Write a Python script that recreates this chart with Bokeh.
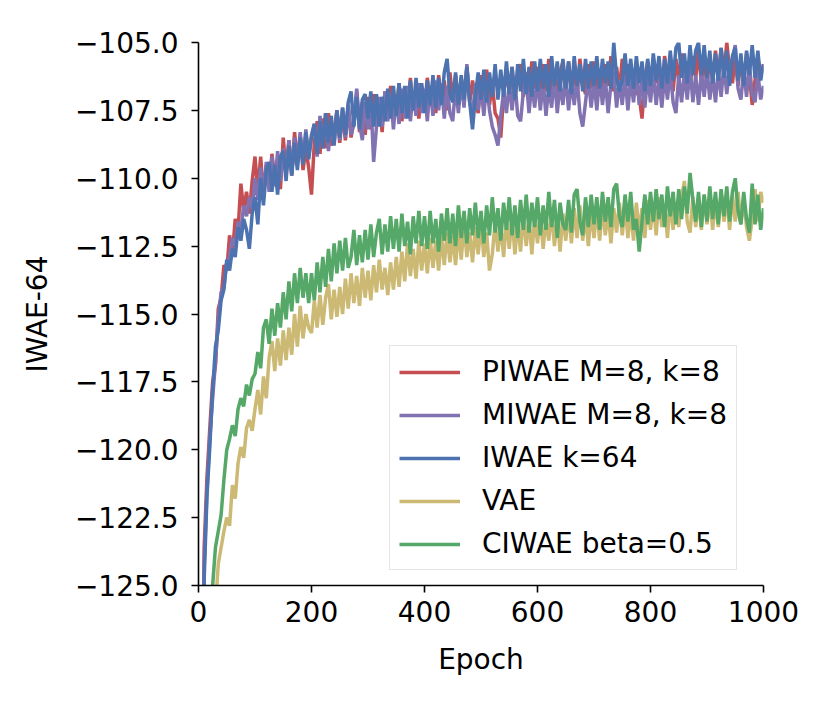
from bokeh.plotting import figure
from bokeh.models import Range1d, FixedTicker, Legend, LegendItem
from bokeh.embed import file_html
from bokeh.resources import INLINE

# ---------------- data (epoch step 5) ----------------
epochs = list(range(0, 1001, 5))

piwae = [
    -140.0, -132.0, -123.6, -121.0, -119.2, -117.5, -116.9, -114.8, -114.4, -113.2,
    -113.4, -112.1, -112.8, -111.5, -111.9, -110.2, -111.2, -110.5, -111.3, -110.1,
    -109.2, -110.5, -109.2, -110.6, -109.5, -110.3, -109.1, -110.0, -109.4, -110.4,
    -108.5, -109.8, -108.6, -109.9, -108.3, -109.4, -108.4, -109.7, -108.9, -109.6,
    -110.6, -108.7, -107.9, -109.1, -107.8, -108.9, -107.6, -108.8, -108.3, -107.5,
    -108.7, -107.6, -108.6, -107.3, -108.5, -107.9, -106.8, -108.3, -107.2, -108.4,
    -107.0, -108.2, -106.9, -107.9, -107.1, -108.3, -106.8, -107.8, -106.6, -107.7,
    -107.5, -106.5, -107.9, -106.8, -107.6, -106.3, -107.5, -106.7, -107.8, -106.6,
    -107.4, -106.3, -107.3, -106.5, -107.6, -106.2, -107.2, -106.4, -107.5, -106.1,
    -107.1, -106.2, -107.3, -106.3, -107.0, -105.9, -107.2, -106.4, -107.1, -107.6,
    -106.2, -107.2, -106.0, -107.3, -106.5, -107.6, -107.8, -108.5, -106.9, -106.0,
    -106.9, -105.9, -107.1, -106.2, -105.8, -107.0, -106.1, -106.9, -105.7, -106.7,
    -105.9, -107.0, -105.8, -106.8, -105.6, -106.9, -106.0, -107.1, -106.1, -105.7,
    -106.9, -105.7, -106.6, -105.9, -107.0, -105.6, -106.5, -106.9, -105.8, -106.7,
    -105.7, -106.8, -106.0, -106.9, -105.8, -106.6, -105.5, -106.8, -105.9, -106.8,
    -105.6, -106.6, -105.8, -106.9, -106.0, -106.8, -107.0, -107.8, -106.3, -105.7,
    -106.7, -105.6, -106.5, -105.7, -106.9, -105.5, -106.4, -105.6, -106.8, -105.6,
    -106.4, -105.4, -106.6, -105.7, -106.7, -105.5, -106.3, -105.3, -106.5, -105.6,
    -106.6, -105.5, -106.4, -105.3, -106.3, -105.2, -106.2, -105.0, -106.0, -106.5,
    -105.5, -106.6, -105.6, -106.4, -105.4, -106.2, -107.3, -106.4, -105.5, -106.3,
    -105.8,
]

miwae = [
    -140.0, -133.0, -124.3, -121.5, -119.6, -118.1, -116.8, -115.2, -114.2, -114.0,
    -113.1, -112.9, -112.2, -112.5, -111.6, -111.9, -111.0, -111.4, -110.7, -111.1,
    -110.0, -110.8, -109.6, -110.7, -109.4, -110.5, -109.2, -110.3, -109.0, -110.1,
    -108.9, -109.9, -108.6, -109.8, -108.5, -109.5, -108.3, -109.4, -108.2, -109.2,
    -108.4, -108.0, -109.2, -107.7, -108.9, -107.6, -109.0, -107.9, -108.7, -107.5,
    -108.6, -107.4, -108.5, -107.3, -108.4, -108.0, -106.7, -108.0, -108.6, -107.2,
    -108.2, -107.1, -109.4, -108.1, -107.0, -108.1, -106.8, -107.9, -106.9, -108.2,
    -107.0, -108.0, -106.7, -107.8, -106.6, -107.9, -106.8, -107.7, -106.5, -107.6,
    -106.7, -107.9, -106.6, -107.7, -106.4, -107.5, -106.5, -107.8, -106.6, -107.6,
    -107.9, -106.6, -107.6, -106.4, -107.4, -105.8, -107.2, -107.7, -106.5, -107.5,
    -106.6, -107.7, -106.5, -107.5, -108.1, -108.4, -108.8, -107.7, -106.8, -107.6,
    -106.5, -107.5, -106.4, -107.7, -107.9, -106.8, -106.3, -107.6, -106.5, -107.4,
    -106.3, -107.5, -106.4, -107.7, -106.6, -107.4, -106.2, -107.6, -106.5, -107.3,
    -106.2, -107.5, -106.4, -107.3, -106.3, -107.6, -108.1, -107.2, -106.3, -107.4,
    -106.4, -107.5, -106.2, -107.3, -106.3, -107.6, -106.5, -106.1, -107.4, -106.4,
    -107.3, -106.2, -107.5, -106.3, -107.2, -106.0, -107.3, -106.3, -107.4, -106.2,
    -107.2, -106.1, -107.3, -106.3, -107.4, -106.2, -107.1, -106.0, -107.2, -107.6,
    -106.2, -107.2, -106.1, -107.1, -105.9, -107.2, -106.2, -107.3, -106.1, -107.0,
    -106.0, -107.1, -106.2, -107.2, -106.0, -107.0, -105.8, -106.9, -105.9, -105.6,
    -105.1, -106.7, -107.1, -106.0, -107.0, -105.8, -106.9, -107.2, -106.1, -107.1,
    -106.6,
]

iwae = [
    -140.0, -133.5, -124.8, -121.7, -119.9, -117.8, -116.2, -115.6, -114.5, -114.1,
    -113.0, -113.4, -112.6, -112.9, -111.8, -112.3, -111.5, -111.9, -112.6, -111.3,
    -110.7, -111.7, -110.0, -111.0, -109.7, -109.4, -110.5, -109.5, -110.6, -109.2,
    -109.0, -110.1, -108.8, -109.9, -108.7, -109.7, -108.5, -109.5, -108.3, -109.3,
    -108.5, -108.0, -109.1, -107.9, -108.9, -107.6, -108.7, -107.7, -108.8, -107.5,
    -108.5, -107.4, -108.4, -107.2, -106.8, -108.1, -107.0, -108.2, -107.1, -106.9,
    -107.8, -106.8, -108.1, -106.9, -108.1, -107.0, -107.9, -106.7, -107.8, -106.6,
    -107.7, -106.5, -107.6, -106.6, -107.8, -106.4, -107.5, -106.3, -107.4, -106.5,
    -107.6, -106.4, -107.3, -106.2, -107.4, -106.3, -107.3, -106.1, -105.6, -106.9,
    -107.2, -106.1, -107.3, -106.2, -107.1, -105.9, -107.2, -108.2, -107.0, -106.1,
    -107.1, -106.0, -107.2, -106.1, -107.0, -105.8, -107.1, -106.0, -107.0, -105.7,
    -106.9, -105.9, -107.1, -105.8, -106.8, -105.6, -106.9, -105.9, -107.0, -105.7,
    -106.8, -105.6, -106.7, -105.8, -107.0, -105.5, -106.6, -105.7, -106.8, -105.6,
    -106.7, -105.7, -106.9, -105.5, -106.6, -105.8, -106.8, -105.6, -106.7, -105.7,
    -106.6, -105.5, -106.7, -105.6, -106.5, -105.7, -106.7, -105.0, -106.3, -106.8,
    -106.4, -105.4, -106.6, -105.6, -106.7, -105.5, -106.5, -105.7, -106.8, -105.6,
    -106.6, -105.4, -106.4, -105.5, -106.7, -105.6, -106.5, -105.3, -106.4, -105.2,
    -105.0, -106.3, -105.4, -106.5, -105.1, -106.2, -105.3, -105.0, -106.2, -105.1,
    -106.3, -105.3, -106.5, -105.4, -106.4, -105.2, -106.3, -105.3, -106.6, -105.5,
    -105.2, -106.4, -105.4, -106.6, -105.3, -106.2, -105.1, -106.3, -105.3, -106.4,
    -105.8,
]

vae = [
    -150.0, -146.0, -142.0, -138.0, -134.0, -129.0, -125.8, -124.2, -123.6, -123.0,
    -122.5, -122.8, -121.3, -121.8, -120.5, -119.9, -120.3, -119.2, -118.9, -119.3,
    -118.5, -117.8, -118.7, -117.3, -118.1, -116.6, -116.0, -117.1, -115.9, -116.9,
    -115.6, -116.7, -115.5, -116.5, -115.0, -116.2, -114.7, -115.9, -115.0, -115.5,
    -115.7, -114.5, -115.5, -114.3, -115.4, -114.4, -113.9, -115.2, -114.1, -115.1,
    -114.0, -115.0, -113.7, -114.8, -113.5, -114.6, -113.6, -114.7, -113.3, -114.4,
    -113.4, -114.5, -113.2, -114.2, -113.0, -114.1, -113.3, -114.3, -113.1, -114.1,
    -112.9, -114.0, -112.7, -113.8, -112.4, -113.6, -112.6, -113.7, -112.3, -113.4,
    -112.4, -113.5, -112.2, -113.3, -112.3, -113.4, -112.1, -113.2, -112.0, -113.1,
    -112.1, -113.2, -111.9, -113.0, -111.7, -112.9, -112.0, -113.1, -111.8, -112.8,
    -111.7, -112.9, -112.0, -113.4, -112.8, -111.6, -112.7, -111.7, -112.9, -111.5,
    -112.6, -111.4, -112.8, -111.6, -112.7, -111.3, -112.5, -111.5, -112.8, -111.4,
    -112.4, -111.3, -112.6, -111.5, -112.3, -111.2, -112.5, -111.4, -112.7, -111.3,
    -112.3, -111.2, -112.4, -111.1, -112.2, -111.0, -112.3, -111.3, -112.5, -111.2,
    -112.2, -111.1, -112.3, -111.0, -112.1, -111.2, -112.4, -111.1, -112.0, -110.9,
    -112.1, -111.0, -112.2, -111.2, -112.3, -110.9, -112.0, -111.1, -112.2, -110.8,
    -111.9, -110.9, -112.1, -110.7, -111.8, -111.0, -112.2, -110.8, -111.9, -110.9,
    -111.8, -110.7, -110.1, -111.6, -112.0, -110.7, -111.8, -110.8, -111.9, -110.6,
    -111.7, -110.7, -111.9, -110.8, -111.8, -110.5, -111.6, -110.7, -111.9, -110.6,
    -111.6, -110.5, -111.7, -110.7, -111.8, -112.3, -111.5, -110.4, -111.6, -110.5,
    -110.9,
]

ciwae = [
    -150.0, -145.0, -140.0, -135.0, -130.0, -125.0, -123.6, -123.0, -122.4, -121.1,
    -120.0, -119.6, -119.1, -119.5, -118.5, -118.1, -118.4, -117.6, -118.0, -117.4,
    -117.2, -116.4, -117.0, -115.5, -115.2, -116.1, -114.8, -115.8, -114.6, -115.5,
    -114.2, -115.2, -113.8, -114.9, -113.5, -114.6, -113.3, -114.4, -113.5, -114.6,
    -113.5, -114.5, -113.1, -114.2, -112.9, -114.0, -112.6, -113.8, -112.4, -113.5,
    -112.3, -113.4, -112.2, -113.3, -112.9, -111.9, -113.2, -112.1, -113.1, -111.9,
    -113.0, -111.7, -112.9, -112.0, -111.5, -112.8, -111.7, -112.7, -111.4, -112.6,
    -111.5, -112.7, -111.3, -112.5, -111.6, -112.8, -111.4, -112.4, -111.2, -112.5,
    -111.4, -112.6, -111.2, -112.4, -111.5, -112.7, -111.3, -112.3, -111.1, -112.4,
    -111.3, -112.5, -111.0, -112.2, -111.2, -112.4, -111.1, -112.1, -110.9, -112.2,
    -111.2, -112.4, -111.0, -112.1, -110.7, -112.0, -111.1, -112.3, -110.9, -111.9,
    -110.7, -112.1, -111.0, -112.2, -110.8, -111.9, -110.6, -112.0, -110.9, -111.8,
    -110.7, -112.1, -111.0, -111.9, -110.5, -111.8, -110.8, -112.2, -110.9, -111.7,
    -111.9, -110.8, -112.0, -110.6, -110.4, -111.6, -112.1, -110.7, -111.8, -110.6,
    -111.7, -110.7, -111.9, -110.5, -111.6, -110.7, -111.8, -110.4, -110.2, -111.4,
    -111.8, -110.6, -111.6, -110.5, -111.9, -111.5, -112.7, -111.6, -110.6, -111.7,
    -110.5, -111.6, -110.4, -111.5, -110.6, -111.8, -110.3, -111.4, -110.5, -111.7,
    -110.4, -111.5, -110.3, -111.3, -109.8, -110.8, -111.6, -110.5, -111.8, -110.6,
    -111.6, -110.3, -111.5, -110.5, -111.7, -110.4, -111.4, -110.3, -111.6, -110.5,
    -110.0, -111.2, -111.7, -110.5, -111.5, -112.0, -110.2, -111.7, -110.6, -111.9,
    -111.1,
]

series_names = ["PIWAE M=8, k=8", "MIWAE M=8, k=8", "IWAE k=64", "VAE", "CIWAE beta=0.5"]
series_values = [piwae, miwae, iwae, vae, ciwae]
series_colors = ["#C44E52", "#8172B2", "#4C72B0", "#CCB974", "#55A868"]

x_ticks = [0, 200, 400, 600, 800, 1000]
y_ticks = [-125.0, -122.5, -120.0, -117.5, -115.0, -112.5, -110.0, -107.5, -105.0]
y_tick_labels = ["\u2212125.0", "\u2212122.5", "\u2212120.0", "\u2212117.5", "\u2212115.0",
                 "\u2212112.5", "\u2212110.0", "\u2212107.5", "\u2212105.0"]

FONT = "DejaVu Sans"
FS = "28px"

p = figure(
    frame_width=565, frame_height=543,
    x_range=Range1d(0, 1000), y_range=Range1d(-125, -105),
    output_backend="svg", toolbar_location=None,
    min_border_left=198, min_border_top=42, min_border_right=50, min_border_bottom=105,
)
p.xgrid.visible = False
p.ygrid.visible = False
p.outline_line_color = None
p.background_fill_color = "white"
p.border_fill_color = "white"

renderers = []
for vals, col in zip(series_values, series_colors):
    r = p.line(epochs, vals, line_color=col, line_width=3.5)
    renderers.append(r)

for ax in (p.xaxis[0], p.yaxis[0]):
    ax.axis_line_width = 1.6
    ax.axis_line_color = "black"
    ax.major_tick_line_width = 1.6
    ax.major_tick_line_color = "black"
    ax.major_tick_out = 7
    ax.major_tick_in = 0
    ax.minor_tick_out = 0
    ax.minor_tick_in = 0
    ax.major_label_text_font = FONT
    ax.major_label_text_font_size = FS
    ax.major_label_text_color = "black"
    ax.axis_label_text_font = FONT
    ax.axis_label_text_font_size = FS
    ax.axis_label_text_font_style = "normal"
    ax.axis_label_text_color = "black"

p.xaxis.ticker = FixedTicker(ticks=x_ticks)
p.yaxis.ticker = FixedTicker(ticks=y_ticks)
p.yaxis.major_label_overrides = dict(zip(y_ticks, y_tick_labels))
p.xaxis.axis_label = "Epoch"
p.yaxis.axis_label = "IWAE-64"
p.yaxis.major_label_standoff = 13
p.xaxis.major_label_standoff = 8
p.yaxis.axis_label_standoff = 18
p.xaxis.axis_label_standoff = 18

items = [LegendItem(label=n, renderers=[r]) for n, r in zip(series_names, renderers)]
legend = Legend(items=items, location=(191, 15))
legend.label_text_font = FONT
legend.label_text_font_size = FS
legend.label_text_color = "black"
legend.glyph_width = 61
legend.glyph_height = 30
legend.label_height = 30
legend.label_standoff = 22
legend.spacing = 10
legend.padding = 9
legend.margin = 0
legend.border_line_color = "#cccccc"
legend.border_line_width = 1.5
legend.background_fill_color = "white"
legend.background_fill_alpha = 0.8
p.add_layout(legend)

open("out.html", "w").write(file_html(p, INLINE))
